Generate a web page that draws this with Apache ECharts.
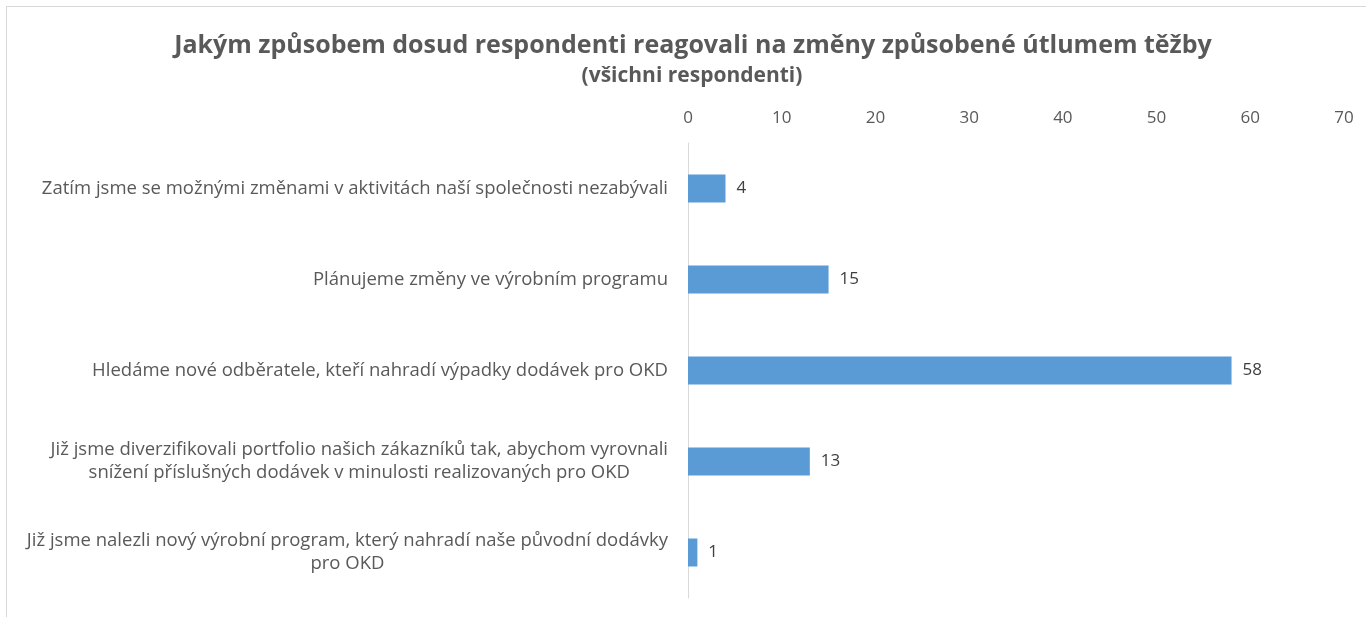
<!DOCTYPE html>
<html>
<head>
<meta charset="utf-8">
<script src="https://cdn.jsdelivr.net/npm/echarts@6/dist/echarts.min.js"></script>
<style>
html,body{margin:0;padding:0;background:#fff;}
#wrap{position:relative;width:1366px;height:617px;overflow:hidden;}
#frame{position:absolute;left:6px;top:6px;width:3000px;height:3000px;border-left:1px solid #d9d9d9;border-top:1px solid #d9d9d9;}
#chart{position:absolute;left:0;top:0;width:1366px;height:617px;}
</style>
</head>
<body>
<div id="wrap"><div id="frame"></div><div id="chart"></div></div>
<script>
const titleText = 'Jakým způsobem dosud respondenti reagovali na změny způsobené útlumem těžby';
const subtitleText = '(všichni respondenti)';
const categories = [
  'Zatím jsme se možnými změnami v aktivitách naší společnosti nezabývali',
  'Plánujeme změny ve výrobním programu',
  'Hledáme nové odběratele, kteří nahradí výpadky dodávek pro OKD',
  'Již jsme diverzifikovali portfolio našich zákazníků tak, abychom vyrovnali\nsnížení příslušných dodávek v minulosti realizovaných pro OKD',
  'Již jsme nalezli nový výrobní program, který nahradí naše původní dodávky\npro OKD'
];
const values = [4, 15, 58, 13, 1];
const axisMin = 0, axisMax = 70, axisStep = 10;

const chart = echarts.init(document.getElementById('chart'), null, {renderer: 'canvas'});
const font = "'Open Sans', sans-serif";
chart.setOption({
  backgroundColor: 'transparent',
  animation: false,
  title: [
    {text: titleText, left: 688, top: 28, textAlign: 'center',
     textStyle: {fontFamily: font, fontSize: 25, fontWeight: 'bold', color: '#595959'}},
    {text: subtitleText, left: 687, top: 61, textAlign: 'center',
     textStyle: {fontFamily: font, fontSize: 21, fontWeight: 'bold', color: '#595959'}}
  ],
  grid: {left: 688, right: 22, top: 143, height: 455, containLabel: false},
  xAxis: {
    type: 'value', position: 'top', min: axisMin, max: axisMax, interval: axisStep,
    axisLine: {show: false}, axisTick: {show: false}, splitLine: {show: false},
    axisLabel: {fontFamily: font, fontSize: 17, color: '#595959', margin: 16}
  },
  yAxis: {
    type: 'category', inverse: true, data: categories,
    axisLine: {show: true, lineStyle: {color: '#d9d9d9', width: 1}},
    axisTick: {show: false},
    axisLabel: {
      margin: 20, align: 'right', color: '#595959', fontFamily: font, fontSize: 18.5, lineHeight: 23,
      formatter: function (v) { return v.split('\n').map(function (s) { return '{c|' + s + '}'; }).join('\n'); },
      rich: {c: {align: 'center', color: '#595959', fontFamily: font, fontSize: 18.5, lineHeight: 23}}
    }
  },
  series: [{
    type: 'bar', data: values, barWidth: 28,
    itemStyle: {color: '#5b9bd5'},
    label: {show: true, position: 'right', distance: 11, fontFamily: font, fontSize: 17, color: '#404040'}
  }]
});
</script>
</body>
</html>
